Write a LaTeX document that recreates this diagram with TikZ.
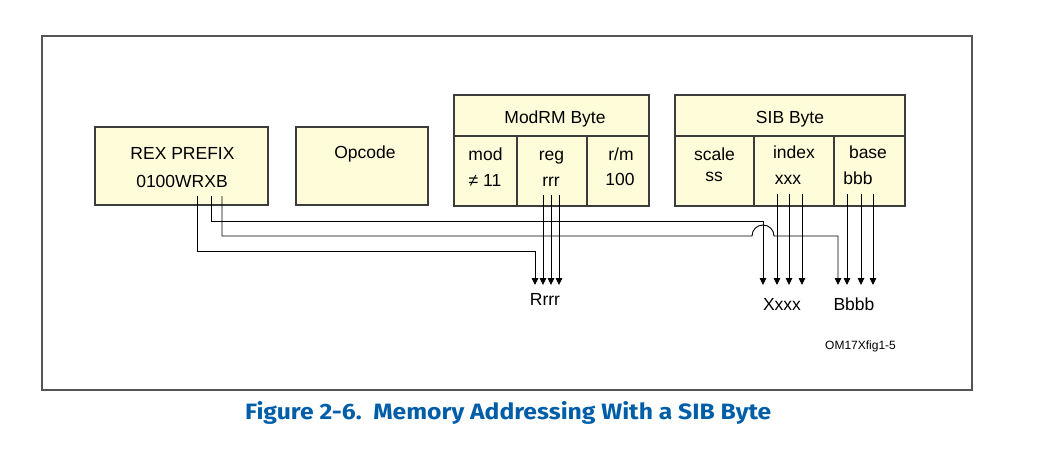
\documentclass[tikz,border=0pt]{standalone}
\usepackage{fontspec}
\setmainfont{Liberation Sans}
\newfontfamily\capfont{Fira Sans}
\usetikzlibrary{arrows.meta}
\definecolor{boxfill}{RGB}{255,252,218}
\definecolor{boxline}{RGB}{60,60,60}
\definecolor{frameline}{RGB}{85,85,85}
\definecolor{capblue}{RGB}{0,94,168}
\tikzset{
  box/.style={draw=boxline, line width=1.3pt, fill=boxfill, inner sep=0pt},
  txt/.style={inner sep=0pt, anchor=base, font=\fontsize{17.5}{20}\selectfont},
  conn/.style={line width=0.9pt, draw=black},
  arr/.style={conn, -{Triangle[width=6.5pt,length=7pt]}},
}
\begin{document}
\begin{tikzpicture}[x=1pt,y=-1pt]
\useasboundingbox (0,0) rectangle (1045,463);
% outer frame
\node[draw=frameline, line width=1.4pt, minimum width=930pt, minimum height=354pt, inner sep=0pt] (frame) at (507,213) {};

% REX prefix and opcode
\node[box, minimum width=173pt, minimum height=78pt] (rex) at (181.5,166) {};
\node[txt] (rexT) at (182.5,159.3) {REX PREFIX};
\node[txt] (rexV) at (182,187.7) {0100WRXB};
\node[box, minimum width=132pt, minimum height=78pt] (opc) at (362,166) {};
\node[txt] (opcT) at (365,158.3) {Opcode};

% ModRM byte
\node[box, minimum width=195pt, minimum height=41pt] (modrm) at (551.5,115.5) {};
\node[txt] (modrmT) at (555,123.3) {ModRM Byte};
\node[box, minimum width=63pt, minimum height=70pt] (mod) at (485.5,171) {};
\node[box, minimum width=70pt, minimum height=70pt] (reg) at (552,171) {};
\node[box, minimum width=62pt, minimum height=70pt] (rm) at (618,171) {};
\node[txt] (modT) at (485.5,160) {mod};
\node[txt] (modV) at (485,186.7) {≠ 11};
\node[txt] (regT) at (551.5,160) {reg};
\node[txt] (regV) at (551,186.7) {rrr};
\node[txt] (rmT) at (621,160) {r/m};
\node[txt] (rmV) at (620,185.7) {100};

% SIB byte
\node[box, minimum width=230pt, minimum height=41pt] (sib) at (790,115.5) {};
\node[txt] (sibT) at (790,123.3) {SIB Byte};
\node[box, minimum width=79pt, minimum height=70pt] (scale) at (714.5,171) {};
\node[box, minimum width=80pt, minimum height=70pt] (index) at (794,171) {};
\node[box, minimum width=71pt, minimum height=70pt] (base) at (869.5,171) {};
\node[txt] (scaleT) at (714.5,160) {scale};
\node[txt] (scaleV) at (714,181.7) {ss};
\node[txt] (indexT) at (794,158.3) {index};
\node[txt] (indexV) at (788,184.3) {xxx};
\node[txt] (baseT) at (868,158.3) {base};
\node[txt] (baseV) at (858,184.3) {bbb};

% output labels
\node[txt] (Rrrr) at (545,305.5) {Rrrr};
\node[txt] (Xxxx) at (782,310) {Xxxx};
\node[txt] (Bbbb) at (854,310) {Bbbb};
\node[inner sep=0pt, anchor=base west, font=\fontsize{12}{14}\selectfont] (fig) at (825,349.3) {OM17Xfig1-5};

% connector start points
\coordinate (sR) at (197,196);
\coordinate (sX) at (211,196);
\coordinate (sB) at (222,196);
\coordinate (g1) at (543,195);
\coordinate (g2) at (551,195);
\coordinate (g3) at (559,195);
\coordinate (i1) at (777,194);
\coordinate (i2) at (789,194);
\coordinate (i3) at (802,194);
\coordinate (b1) at (847,194);
\coordinate (b2) at (861,194);
\coordinate (b3) at (873,194);
% tips
\coordinate (tR) at (535,285);
\coordinate (tG1) at (543,285);
\coordinate (tG2) at (551,285);
\coordinate (tG3) at (559,285);
\coordinate (tX) at (763,285);
\coordinate (tI1) at (777,285);
\coordinate (tI2) at (789,285);
\coordinate (tI3) at (802,285);
\coordinate (tB) at (838,285);
\coordinate (tB1) at (847,285);
\coordinate (tB2) at (861,285);
\coordinate (tB3) at (873,285);

% REX bit lines
\draw[arr] (sR) |- (tR |- 0,251) -- (tR);
\draw[arr] (sX) |- (tX |- 0,221) -- (tX);
\draw[arr] (sB) |- (752,236) arc[start angle=180, end angle=0, radius=11pt] -- (tB |- 0,236) -- (tB);

% field lines
\foreach \a/\b in {g1/tG1,g2/tG2,g3/tG3,i1/tI1,i2/tI2,i3/tI3,b1/tB1,b2/tB2,b3/tB3}
  \draw[arr] (\a) -- (\b);

% caption
\node[inner sep=0pt, anchor=base west, text=capblue] (cap) at (245,419.5)
  {\resizebox{526pt}{18pt}{\capfont\bfseries Figure 2-6.\ \ Memory Addressing With a SIB Byte}};
\end{tikzpicture}
\end{document}
